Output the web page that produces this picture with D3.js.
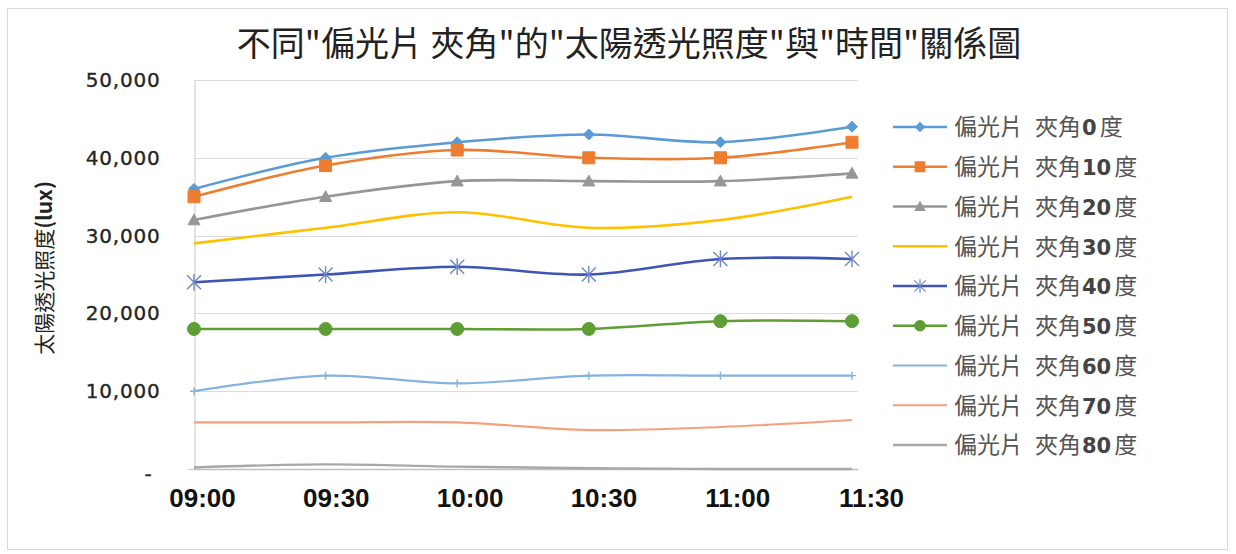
<!DOCTYPE html>
<html>
<head>
<meta charset="utf-8">
<script src="https://cdn.jsdelivr.net/npm/d3@7"></script>
<style>
  html, body { margin: 0; padding: 0; background: #fff; }
  svg { display: block; }
</style>
</head>
<body>
<svg id="chart" width="1236" height="554"></svg>
<script>
// Time of measurement (x categories)
const times = ["09:00", "09:30", "10:00", "10:30", "11:00", "11:30"];

// Illuminance (lux) per polarizer angle
const angle0  = [36000, 40000, 42000, 43000, 42000, 44000];
const angle10 = [35000, 39000, 41000, 40000, 40000, 42000];
const angle20 = [32000, 35000, 37000, 37000, 37000, 38000];
const angle30 = [29000, 31000, 33000, 31000, 32000, 35000];
const angle40 = [24000, 25000, 26000, 25000, 27000, 27000];
const angle50 = [18000, 18000, 18000, 18000, 19000, 19000];
const angle60 = [10000, 12000, 11000, 12000, 12000, 12000];
const angle70 = [6000, 6000, 6000, 5000, 5400, 6300];
const angle80 = [200, 600, 300, 100, 0, 0];

const seriesPrefixA = "偏光片";
const seriesPrefixB = "夾角";
const seriesAngles = ["0", "10", "20", "30", "40", "50", "60", "70", "80"];
const seriesSuffix = "度";
const seriesValues = [angle0, angle10, angle20, angle30, angle40, angle50, angle60, angle70, angle80];

const yTicks = [0, 10000, 20000, 30000, 40000, 50000];

const title = '不同"偏光片 夾角"的"太陽透光照度"與"時間"關係圖';
const yTitleMain = "太陽透光照度";
const yTitleUnit = "(lux)";

// Appearance of each series
const styles = [
  { color: "#5b9bd5", marker: "diamond", width: 2.6 },
  { color: "#ed7d31", marker: "square", width: 2.6 },
  { color: "#969696", marker: "triangle", width: 2.6 },
  { color: "#ffc000", marker: "none", width: 2.6 },
  { color: "#3f55b5", marker: "star", width: 2.6 },
  { color: "#5e9e35", marker: "circle", width: 2.6 },
  { color: "#86b2e0", marker: "plus", width: 2.2 },
  { color: "#f4a07c", marker: "none", width: 2.2 },
  { color: "#a8a8a8", marker: "none", width: 2.4 }
];

const svg = d3.select("#chart");

// Chart frame
svg.append("rect")
  .attr("x", 7.5).attr("y", 8.5).attr("width", 1220).attr("height", 541)
  .attr("fill", "#fff").attr("stroke", "#d9d9d9").attr("stroke-width", 1);

const plot = { left: 194, right: 852, top: 80, bottom: 469 };

const x = d3.scalePoint().domain(times).range([plot.left, plot.right]);
const xLabel = d3.scalePoint().domain(times).range([202, 871]);
const y = d3.scaleLinear().domain([0, 50000]).range([plot.bottom, plot.top]);

const cjk = "'Noto Sans CJK TC', 'Noto Sans CJK SC', sans-serif";

// Title
svg.append("text")
  .attr("x", 629).attr("y", 56)
  .attr("text-anchor", "middle")
  .attr("font-family", cjk)
  .attr("font-size", 34)
  .attr("fill", "#222")
  .text(title);

// Horizontal gridlines
svg.append("g")
  .selectAll("line")
  .data(yTicks.filter(d => d > 0))
  .join("line")
  .attr("x1", plot.left).attr("x2", 858)
  .attr("y1", d => Math.round(y(d)) + 0.5).attr("y2", d => Math.round(y(d)) + 0.5)
  .attr("stroke", "#dcdcdc").attr("stroke-width", 1);

// Y axis with labels
const yAxis = d3.axisLeft(y)
  .tickValues(yTicks)
  .tickSize(0)
  .tickPadding(34)
  .tickFormat(d => d === 0 ? "-" : d3.format(",")(d));
const yg = svg.append("g").attr("transform", `translate(${plot.left + 0.5},0)`).call(yAxis);
yg.select(".domain").attr("stroke", "#c8c8c8");
yg.selectAll("text")
  .attr("font-family", "'DejaVu Sans', Verdana, sans-serif")
  .attr("font-size", 20)
  .attr("letter-spacing", 0.8)
  .attr("stroke", "#262626").attr("stroke-width", 0.35)
  .attr("fill", "#262626");
yg.selectAll(".tick").filter(d => d === 0).select("text").attr("dy", "0.55em").attr("dx", "-8");

// Small tick at the axis origin
svg.append("line")
  .attr("x1", plot.left - 6).attr("x2", plot.left)
  .attr("y1", y(0) + 0.5).attr("y2", y(0) + 0.5)
  .attr("stroke", "#c8c8c8");

// X axis baseline
svg.append("line")
  .attr("x1", plot.left).attr("x2", 858)
  .attr("y1", y(0) + 0.5).attr("y2", y(0) + 0.5)
  .attr("stroke", "#c0c0c0").attr("stroke-width", 1.5);

// X axis labels
const xAxis = d3.axisBottom(xLabel).tickSize(0).tickPadding(0);
const xg = svg.append("g").attr("transform", "translate(0,489)").call(xAxis);
xg.select(".domain").remove();
xg.selectAll("text")
  .attr("font-family", "'Liberation Sans Narrow', 'Arial Narrow', 'Liberation Sans', sans-serif")
  .attr("font-weight", "bold")
  .attr("font-size", 26)
  .attr("fill", "#111");

// Y axis title
const yt = svg.append("text")
  .attr("transform", "translate(52,268) rotate(-90)")
  .attr("text-anchor", "middle")
  .attr("font-family", cjk)
  .attr("font-size", 21)
  .attr("fill", "#222");
yt.append("tspan").text(yTitleMain);
yt.append("tspan").attr("font-weight", "bold").text(yTitleUnit);

// Marker shapes
function markerPath(kind, size) {
  const s = size;
  switch (kind) {
    case "diamond": return `M0,${-s}L${s},0L0,${s}L${-s},0Z`;
    case "square": return `M${-s},${-s}H${s}V${s}H${-s}Z`;
    case "triangle": return `M0,${-s}L${s},${s * 0.8}H${-s}Z`;
    case "circle": return d3.symbol(d3.symbolCircle, Math.PI * s * s)();
    case "plus": return `M${-s},0H${s}M0,${-s}V${s}`;
    case "star": return `M${-s},${-s}L${s},${s}M${-s},${s}L${s},${-s}M0,${-s * 1.2}V${s * 1.2}`;
    default: return "";
  }
}
const filled = k => ["diamond", "square", "triangle", "circle"].includes(k);
const markerSize = { diamond: 5.5, square: 6, triangle: 6, circle: 6.5, plus: 4, star: 7 };
const markerStroke = k => k === "star" ? "#6f86c9" : null;

const line = d3.line()
  .x((d, i) => x(times[i]))
  .y(d => y(d))
  .curve(d3.curveCatmullRom.alpha(0));

// Series lines and markers
seriesValues.forEach((vals, si) => {
  const st = styles[si];
  const g = svg.append("g");
  g.append("path")
    .datum(vals)
    .attr("d", line)
    .attr("fill", "none")
    .attr("stroke", st.color)
    .attr("stroke-width", st.width)
    .attr("stroke-linejoin", "round");
  if (st.marker !== "none") {
    g.selectAll("path.m")
      .data(vals)
      .join("path")
      .attr("class", "m")
      .attr("transform", (d, i) => `translate(${x(times[i])},${y(d)})`)
      .attr("d", markerPath(st.marker, markerSize[st.marker]))
      .attr("fill", filled(st.marker) ? st.color : "none")
      .attr("stroke", markerStroke(st.marker) || st.color)
      .attr("stroke-width", filled(st.marker) ? 1 : 1.4);
  }
});

// Legend
const legendY = d3.scalePoint().domain(seriesAngles).range([127, 445]);
const lg = svg.append("g");
seriesAngles.forEach((ang, si) => {
  const st = styles[si];
  const cy = legendY(ang);
  const row = lg.append("g").attr("transform", `translate(0,${cy})`);
  row.append("line")
    .attr("x1", 893).attr("x2", 947).attr("y1", 0).attr("y2", 0)
    .attr("stroke", st.color).attr("stroke-width", st.width);
  if (st.marker !== "none" && st.marker !== "plus") {
    const ms = markerSize[st.marker] * 0.8;
    row.append("path")
      .attr("transform", "translate(920,0)")
      .attr("d", markerPath(st.marker, ms))
      .attr("fill", filled(st.marker) ? st.color : "none")
      .attr("stroke", markerStroke(st.marker) || st.color)
      .attr("stroke-width", 1.2);
  }
  const t = row.append("text")
    .attr("x", 954).attr("y", 0).attr("dy", "0.36em")
    .attr("font-family", cjk)
    .attr("font-size", 23)
    .attr("fill", "#555");
  t.append("tspan").text(seriesPrefixA);
  t.append("tspan").attr("dx", 12).text(seriesPrefixB);
  t.append("tspan")
    .attr("dx", 1)
    .attr("font-family", "'DejaVu Sans', Verdana, sans-serif")
    .attr("font-weight", "bold")
    .attr("font-size", 21)
    .attr("fill", "#444")
    .text(ang);
  t.append("tspan").attr("dx", 3).text(seriesSuffix);
});
</script>
</body>
</html>
